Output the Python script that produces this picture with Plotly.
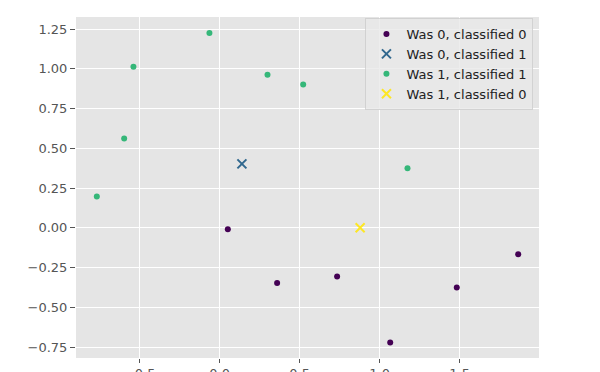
import plotly.graph_objects as go

# Data
x00 = [0.051, 0.359, 0.734, 1.066, 1.482, 1.866]
y00 = [-0.009, -0.348, -0.306, -0.721, -0.375, -0.166]

x01 = [0.139]
y01 = [0.402]

x11 = [-0.768, -0.597, -0.539, -0.064, 0.299, 0.522, 1.174]
y11 = [0.197, 0.561, 1.013, 1.226, 0.962, 0.901, 0.375]

x10 = [0.878]
y10 = [0.0]

names = ["Was 0, classified 0", "Was 0, classified 1",
         "Was 1, classified 1", "Was 1, classified 0"]
colors = ["#440154", "#31688e", "#35b779", "#fde725"]

xticks = [-0.5, 0.0, 0.5, 1.0, 1.5, 2.0]
xticktext = ["\u22120.5", "0.0", "0.5", "1.0", "1.5", "2.0"]
yticks = [-0.75, -0.5, -0.25, 0.0, 0.25, 0.5, 0.75, 1.0, 1.25]
yticktext = ["\u22120.75", "\u22120.50", "\u22120.25", "0.00", "0.25", "0.50", "0.75", "1.00", "1.25"]

fig = go.Figure()
fig.add_trace(go.Scatter(x=x00, y=y00, mode="markers", name=names[0],
                         marker=dict(color=colors[0], size=6, line=dict(width=0))))
fig.add_trace(go.Scatter(x=x01, y=y01, mode="markers", name=names[1],
                         marker=dict(color=colors[1], size=9, symbol="x-thin",
                                     line=dict(width=2, color=colors[1]))))
fig.add_trace(go.Scatter(x=x11, y=y11, mode="markers", name=names[2],
                         marker=dict(color=colors[2], size=6, line=dict(width=0))))
fig.add_trace(go.Scatter(x=x10, y=y10, mode="markers", name=names[3],
                         marker=dict(color=colors[3], size=9, symbol="x-thin",
                                     line=dict(width=2, color=colors[3]))))

axis_common = dict(
    showgrid=True, gridcolor="white", gridwidth=1.1,
    zeroline=False, showline=False,
    ticks="outside", tickwidth=1, tickcolor="#555555",
    tickfont=dict(family="DejaVu Sans", size=13, color="#555555"),
    automargin=False,
)

# page body has an 8px margin, so the plot area is offset to compensate
fig.update_layout(
    width=600, height=372,
    margin=dict(l=68, r=69, t=9, b=22),
    paper_bgcolor="white",
    plot_bgcolor="#E5E5E5",
    font=dict(family="DejaVu Sans", size=13, color="#222222"),
    xaxis=dict(range=[-0.898, 1.996], tickvals=xticks, ticktext=xticktext,
               ticklen=4, ticklabelstandoff=-1, **axis_common),
    yaxis=dict(range=[-0.819, 1.326], tickvals=yticks, ticktext=yticktext,
               ticklen=5, **axis_common),
    legend=dict(x=0.988, y=0.997, xanchor="right", yanchor="top",
                bgcolor="rgba(232,232,232,0.8)", bordercolor="rgba(204,204,204,0.8)",
                borderwidth=1, tracegroupgap=0,
                font=dict(family="DejaVu Sans", size=13, color="#222222")),
    showlegend=True,
)

fig.write_html("out.html")
